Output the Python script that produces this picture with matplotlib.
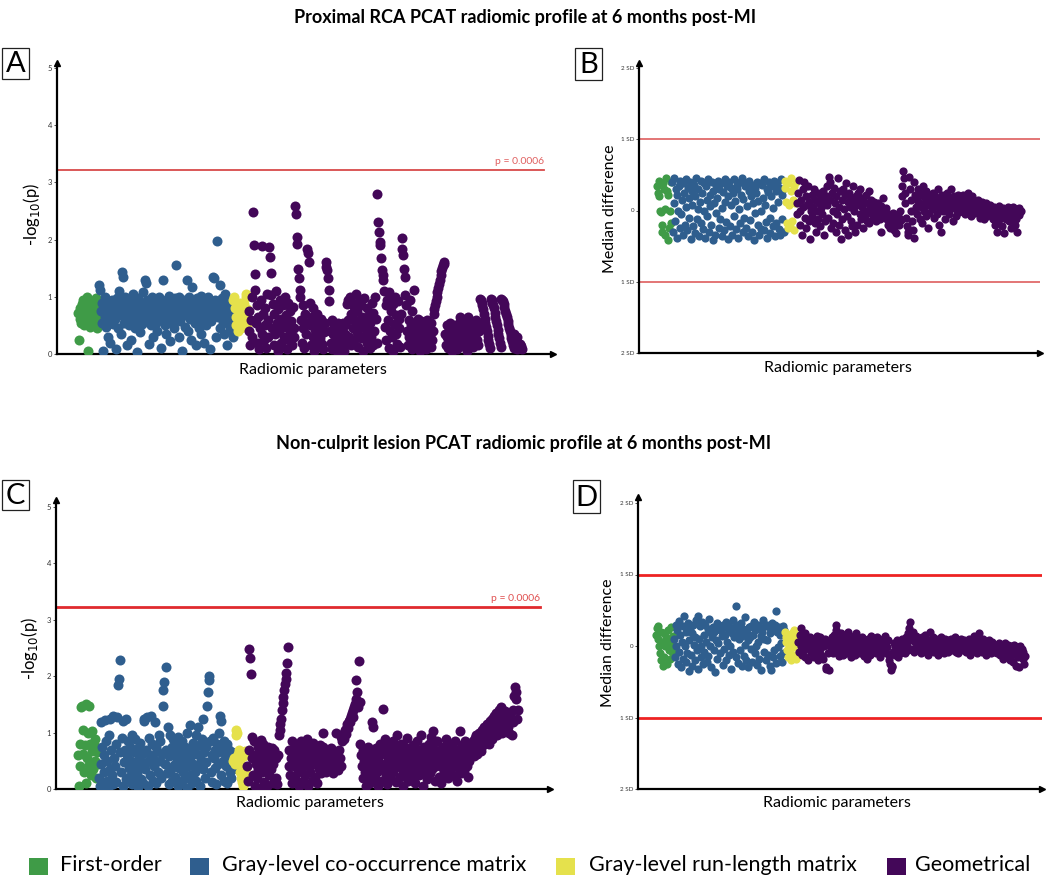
import numpy as np
import matplotlib
matplotlib.use("Agg")
import matplotlib.pyplot as plt
from matplotlib.patches import Rectangle

plt.rcParams['font.family'] = ['Lato', 'DejaVu Sans']

# ---------------- DATA ----------------
# Panel A: -log10(p), hundredths
A_first = [72, 25, 62, 80, 55, 88, 68, 95, 50, 75, 60, 85, 100, 5, 65, 90, 48, 78, 58, 70,
           92, 52, 82, 66, 98, 45, 74, 60]
A_glcm = [120, 112, 75, 90, 55, 5, 85, 65, 100, 48, 78, 30, 92, 60, 20, 82, 70, 95, 52, 88,
          62, 75, 8, 98, 45, 80, 110, 68, 35, 90, 143, 135, 72, 55, 100, 85, 15, 65, 95, 50,
          78, 88, 25, 60, 105, 70, 92, 45, 82, 3, 58, 98, 75, 38, 90, 65, 52, 85, 108, 72,
          130, 125, 60, 95, 80, 18, 70, 88, 50, 100, 65, 30, 85, 75, 55, 92, 40, 68, 100, 80,
          62, 10, 90, 130, 72, 85, 50, 95, 35, 78, 60, 102, 88, 22, 70, 55, 92, 82, 45, 98,
          75, 155, 65, 85, 30, 100, 58, 90, 72, 5, 80, 95, 48, 68, 88, 130, 40, 78, 100, 62,
          25, 85, 118, 70, 92, 55, 80, 15, 98, 65, 88, 45, 75, 102, 35, 60, 85, 20, 95, 72,
          50, 88, 62, 100, 78, 8, 92, 58, 80, 135, 132, 70, 95, 30, 85, 197, 65, 90, 45, 120,
          75, 98, 55, 88, 35, 105, 68, 90, 15, 80, 60, 95, 45, 72, 40, 30]
A_glrlm = [95, 100, 80, 65, 50, 85, 40, 70, 58, 90, 45, 75, 62, 52, 88, 68, 100, 105, 78, 55]
A_geom = [40, 75, 15, 60, 100, 30, 248, 190, 140, 112, 55, 85, 20, 65, 8, 45, 95, 35, 188, 70,
          25, 80, 50, 10, 105, 60, 30, 187, 170, 141, 103, 45, 88, 15, 70, 35, 110, 55, 5, 78,
          40, 95, 20, 62, 12, 85, 48, 30, 100, 68, 8, 52, 90, 25, 75, 38, 58, 15, 82, 45,
          30, 259, 245, 205, 192, 148, 132, 112, 100, 60, 20, 85, 45, 10, 70, 35, 55, 183, 176, 161,
          90, 50, 15, 65, 30, 80, 5, 42, 58, 22, 70, 35, 12, 50, 28, 62, 18, 45, 8, 38,
          55, 161, 152, 147, 132, 112, 92, 40, 20, 60, 8, 35, 50, 15, 45, 28, 5, 55, 32, 18,
          48, 10, 40, 25, 55, 5, 35, 50, 20, 88, 95, 60, 30, 100, 70, 15, 90, 45, 82, 25,
          60, 105, 38, 75, 12, 92, 50, 28, 85, 65, 5, 45, 98, 32, 58, 20, 80, 42, 68, 10,
          55, 30, 90, 15, 72, 40, 100, 62, 20, 279, 231, 213, 196, 190, 167, 147, 138, 129, 110, 48,
          85, 25, 95, 60, 10, 108, 40, 75, 30, 88, 5, 52, 100, 35, 68, 18, 92, 45, 62, 12,
          70, 202, 183, 173, 148, 134, 103, 85, 40, 15, 60, 30, 95, 50, 8, 75, 35, 112, 55, 20,
          45, 10, 62, 30, 50, 5, 40, 58, 22, 35, 15, 52, 28, 8, 60, 42, 18, 48, 32, 12,
          55, 25, 40, 70, 78, 85, 92, 100, 108, 115, 122, 130, 138, 145, 150, 155, 160, 158, 35, 15,
          50, 30, 10, 45, 55, 20, 40, 5, 35, 50, 25, 15, 45, 30, 8, 52, 38, 20, 65, 60,
          55, 48, 40, 32, 25, 18, 10, 5, 65, 58, 50, 42, 35, 28, 20, 12, 45, 30, 60, 38,
          25, 15, 55, 40, 97, 95, 90, 85, 78, 70, 62, 55, 48, 40, 32, 25, 18, 10, 97, 94,
          90, 85, 80, 72, 65, 58, 50, 42, 35, 28, 20, 12, 97, 95, 92, 88, 82, 76, 70, 64,
          58, 52, 46, 40, 34, 28, 22, 16, 10, 35, 25, 15, 8, 30, 20, 12, 18, 10, 14, 8]

# Panel B: median difference, hundredths of SD
B_first = [35, 25, 42, 20, 0, -2, -20, -30, 38, 30, 2, -35, 45, 28, -42, 22, -25, 0, 40, -18]
B_glcm = [40, -30, 10, 45, -15, 30, -38, 22, 0, 35, -25, 42, -5, 15, -35, 38, 25, -20, 5, 44,
          -28, 32, -10, 18, 40, -40, 28, 8, -22, 36, -32, 20, 45, -12, 2, 30, -36, 12, 42, -18,
          25, -26, 38, 0, -38, 34, 15, -8, 44, -30, 22, 6, -20, 40, -42, 28, 10, -34, 36, -4,
          18, 42, -24, 30, -12, 38, -36, 4, 26, -28, 44, 12, -16, 34, -40, 20, 40, -22, 8, 32,
          -34, 24, 44, -8, 14, -26, 36, 30, -38, 2, 40, -18, 22, 46, -30, 16, -10, 34, -24, 38,
          6, -36, 28, 42, -14, 20, -30, 36, 10, -42, 32, -4, 24, 40, -20, 14, -34, 38, 0, -26,
          36, 18, -28, 44, 8, -16, 30, -38, 26, 40, -10, -32, 20, 34, -22, 4, 42, -36, 28, -18,
          38, 12, -26, 32, -34, 44, 22, -12, 30, -30]
B_glrlm = [42, 32, 12, -18, -25, 38, 8, -22, 45, 28, -15, 15, 35, -28, 10, 40]
B_geom = [10, -5, 25, 43, 0, -20, 15, -35, 5, 30, 40, -10, 20, -25, 8, 35, -15, 12, -40, 0,
          22, -8, 5, 30, -18, 15, -30, 0, 25, -12, 10, -22, 18, 3, -5, 28, -35, 12, -15, 20,
          8, 35, -10, 47, 40, 15, -25, 25, 0, -18, 32, 10, -30, 20, -5, 45, 5, -20, 28, -40,
          15, -12, 30, 2, -28, 22, 38, -8, 12, -35, 25, 5, -15, 18, -22, 35, 0, 10, -30, 20,
          8, -20, 25, 15, -5, 30, -12, 5, 18, -25, 12, -8, 22, 0, -15, 10, 28, -18, 3, 15,
          -5, 8, -10, 12, -2, 5, -15, 0, 10, -8, 3, -12, -30, 6, -4, 18, -6, 2, -10, 4,
          -8, -12, -20, -5, -15, -25, -10, -18, -3, -22, -28, -8, -15, -32, -12, -5, -20, -10, 0, -14,
          20, 35, 55, 45, 25, 10, -10, -22, -30, -35, 47, 30, 15, 0, -15, -28, -38, 40, 22, 5,
          -5, 15, 30, 10, -12, 25, 5, -18, 20, 35, 0, 12, -8, 28, 8, -25, 18, -3, 22, 10,
          2, 15, 25, -10, 8, 20, 12, -5, 30, 5, -20, 15, 10, -30, 22, 0, 8, 18, -12, 5,
          12, 25, 8, -5, 18, 2, 30, 10, -15, 5, 20, 15, -8, 12, 0, 22, 6, -2, 14, 8,
          15, 5, 22, 10, -5, 18, 8, 0, 25, 12, 3, 15, -8, 10, 20, 2, 8, 12, -3, 6,
          10, 0, 15, 5, -10, 8, 2, 12, -5, 4, -12, 6, 0, 10, -8, 2, 5, -3, 8, 0,
          -5, 3, -12, 5, -20, 0, -8, -30, 2, -15, 6, -5, -10, 0, -22, 4, -8, -32, 2, -12,
          0, -5, 5, -15, -8, 3, -25, 0, -10, 5, -5, -20, 2, -12, -30, 0, -6, 4, -2, 0]

# Panel C: -log10(p), hundredths
C_first = [60, 5, 80, 40, 145, 148, 105, 62, 30, 78, 150, 10, 55, 100, 42, 147, 80, 25, 68, 102,
           35, 78, 50, 88, 20, 65, 45, 72]
C_glcm = [20, 5, 45, 118, 75, 10, 60, 30, 122, 85, 15, 50, 2, 95, 35, 125, 70, 25, 8, 130,
          55, 40, 12, 80, 128, 185, 195, 65, 228, 30, 90, 5, 120, 48, 70, 18, 125, 60, 85, 38,
          22, 75, 50, 8, 95, 35, 65, 15, 88, 45, 28, 72, 3, 55, 82, 40, 18, 62, 10, 125,
          120, 35, 70, 128, 48, 5, 90, 25, 60, 130, 80, 15, 55, 40, 118, 75, 10, 68, 30, 95,
          50, 85, 20, 62, 148, 176, 190, 45, 217, 70, 28, 110, 8, 58, 95, 35, 75, 15, 88, 42,
          65, 22, 80, 52, 5, 92, 38, 70, 12, 60, 85, 30, 48, 18, 75, 55, 2, 100, 40, 68,
          25, 113, 58, 10, 82, 45, 72, 30, 95, 15, 62, 110, 40, 78, 5, 52, 88, 35, 125, 65,
          20, 75, 48, 147, 172, 193, 200, 85, 30, 60, 12, 90, 55, 38, 70, 8, 80, 45, 65, 100,
          130, 120, 25, 75, 50, 85, 15, 62, 40, 80, 10, 55, 70, 30, 48, 20, 65, 35]
C_glrlm = [50, 55, 45, 95, 105, 100, 62, 70, 48, 30, 20, 12, 5, 40, 58, 68, 38, 25]
C_geom = [40, 15, 70, 248, 233, 204, 55, 92, 25, 85, 5, 60, 45, 20, 75, 35, 2, 65, 50, 87,
          30, 80, 55, 12, 70, 40, 60, 5, 75, 25, 50, 65, 35, 72, 10, 45, 70, 62, 20, 55,
          8, 60, 96, 105, 115, 125, 140, 152, 164, 175, 186, 195, 205, 224, 252, 40, 70, 25, 55, 85,
          10, 65, 40, 80, 20, 50, 72, 30, 60, 5, 45, 85, 35, 68, 15, 55, 78, 25, 48, 88,
          62, 5, 40, 75, 30, 58, 15, 82, 45, 65, 22, 70, 50, 10, 60, 35, 78, 48, 28, 68,
          99, 75, 60, 45, 30, 70, 55, 40, 65, 50, 35, 72, 58, 42, 28, 68, 52, 38, 99, 62,
          48, 33, 70, 55, 40, 92, 85, 95, 100, 88, 105, 98, 110, 115, 108, 120, 125, 118, 130, 135,
          128, 140, 145, 150, 194, 160, 172, 146, 227, 155, 80, 60, 40, 20, 70, 50, 30, 5, 65, 45,
          75, 25, 55, 10, 68, 38, 119, 110, 60, 20, 45, 72, 30, 58, 5, 48, 80, 35, 62, 15,
          141, 70, 42, 88, 25, 60, 8, 52, 78, 35, 65, 18, 45, 85, 30, 58, 72, 12, 50, 95,
          40, 68, 22, 55, 80, 35, 5, 62, 48, 75, 28, 58, 90, 15, 45, 70, 38, 60, 20, 52,
          78, 32, 65, 10, 50, 85, 42, 70, 25, 58, 95, 38, 62, 5, 48, 75, 30, 55, 18, 68,
          45, 80, 28, 60, 92, 35, 102, 72, 50, 15, 65, 40, 85, 55, 22, 70, 48, 10, 62, 38,
          75, 30, 58, 88, 42, 68, 20, 52, 80, 35, 62, 48, 72, 25, 55, 85, 40, 65, 15, 50,
          70, 38, 102, 60, 28, 78, 45, 62, 32, 85, 55, 40, 68, 22, 50, 75, 60, 80, 65, 72,
          85, 58, 90, 70, 95, 62, 82, 100, 75, 92, 68, 105, 88, 78, 110, 95, 85, 100, 115, 90,
          105, 80, 120, 98, 125, 88, 110, 130, 100, 118, 135, 95, 122, 108, 140, 128, 112, 145, 100, 132,
          115, 125, 138, 105, 120, 130, 110, 100, 128, 135, 120, 95, 140, 118, 165, 180, 172, 160, 125, 140]

# Panel D: median difference, hundredths of SD
D_first = [15, 25, 28, 10, 0, -10, -20, 20, 5, -28, 18, -15, 0, 12, -25, 8, 22, -5, -18, 2,
           26, -8, 14, -2]
D_glcm = [10, -15, 30, 0, 22, -25, 35, -8, 15, -30, 5, 28, -18, 42, 0, -22, 20, -10, 32, -35,
          8, 25, -12, 18, -28, 30, 2, -20, 12, 36, -5, 42, -32, 10, 28, -15, 0, 34, -25, 16,
          -8, 30, 6, -22, 24, -14, 38, 0, 18, -30, 12, 26, -6, 20, -36, 8, 32, -18, 4, 28,
          -10, 22, 24, 14, -26, 30, -4, 16, 34, -20, 6, 24, -12, 28, 0, -32, 18, 36, -8, 12,
          26, -16, 56, 30, -24, 20, 10, -6, 32, -28, 14, 24, -14, 2, 40, -20, 18, 8, -30, 26,
          12, -4, 28, -22, 16, 34, -10, 22, 0, -26, 30, 6, -18, 24, 14, -34, 20, 36, -8, 10,
          28, -20, 30, 8, -12, 26, -28, 18, -34, 32, -16, 22, -6, 30, -24, 49, 20, -2, 26, -14,
          16, 4, -22, 28, -10, 22]
D_glrlm = [20, 12, 5, -5, -15, 15, 0, -10, -20, 18, 8, -2, 22, -12, 10, -18, 3, 14]
D_geom = [5, -8, 15, 0, 25, -12, 8, -5, 18, -15, 3, 10, -20, 6, -3, 12, -10, 0, 8, -6,
          10, -15, 4, -8, 14, 0, -20, 6, -4, 12, -12, 2, 8, -18, 0, 10, -30, -32, 5, -10,
          -33, 0, 8, -5, 12, -10, 3, 15, -2, 30, 22, 6, -8, 10, -14, 2, 18, -6, 4, -12,
          0, 8, -4, 12, -10, 20, 2, -8, 6, -15, 10, 0, -5, 14, -12, 4, 18, -2, 8, -8,
          3, -10, 10, -4, 12, 0, -14, 6, -6, 8, -18, 2, 10, -8, 4, -12, 14, 0, -5, 6,
          -2, 8, -10, 4, 12, -6, 0, -15, 6, 2, -8, 10, -4, 0, 14, -10, 5, -2, 8, -12,
          -20, -25, -33, -30, -28, -8, 4, -12, 0, -6, 8, -15, -3, 6, -10, 2, -5, 10, -8, 0,
          5, -10, 12, 0, 18, -5, 25, 34, 15, 8, -4, 20, 10, -8, 6, 14, -2, 4, 10, -6,
          8, 2, -10, 12, -4, 6, 0, 15, -8, 10, 4, -12, 8, 0, 20, 6, -5, 12, 2, -8,
          6, -4, 10, 0, -12, 8, 4, -6, 12, -2, 6, 0, -10, 4, 10, -5, 2, 8, -8, 0,
          4, 10, -6, 2, 8, -4, 0, 12, -8, 6, 2, -10, 8, 0, -4, 10, 4, -6, 2, 8,
          0, -8, 6, 2, -4, 10, 0, -12, 4, 8, -6, 2, 14, -2, 6, 0, -10, 4, 18, 8,
          -2, 6, -8, 2, 10, -4, 0, -12, 6, 2, -6, 8, -2, 4, -10, 0, 6, -4, 2, -8,
          -4, 2, -10, 0, -6, 4, -12, -2, 2, -8, -18, 0, -4, 4, -10, -2, -14, 2, -6, -20,
          -6, 0, -12, -22, -4, 2, -10, -28, -2, -8, -16, -30, 0, -6, -12, -4, -18, -8, -25, -14]

categories = ['First-order', 'Gray-level co-occurrence matrix',
              'Gray-level run-length matrix', 'Geometrical']
colors = ['#3f9b47', '#2f5e8e', '#e5e14c', '#430758']
p_threshold = 0.0006
sd_ticks = [-2, -1, 0, 1, 2]
sd_labels = ['2 SD', '1 SD', '0', '1 SD', '2 SD']
titles = ['Proximal RCA PCAT radiomic profile at 6 months post-MI',
          'Non-culprit lesion PCAT radiomic profile at 6 months post-MI']

# ---------------- FIGURE ----------------
W, H = 1050, 883
fig = plt.figure(figsize=(W / 100, H / 100), dpi=100)
fig.patch.set_facecolor('white')


def px_axes(l, r, b, t):
    return fig.add_axes([l / W, 1 - b / H, (r - l) / W, (b - t) / H])


def scatter_groups(ax, groups, p0, p1, L, R, size):
    n = sum(len(g) for g in groups)
    start = 0
    for vals, c in zip(groups, colors):
        xs = np.arange(start, start + len(vals))
        ax.scatter(xs, np.asarray(vals) / 100.0, s=size, color=c, linewidths=0, zorder=3)
        start += len(vals)
    s = (p1 - p0) / (n - 1)
    ax.set_xlim(-(p0 - L) / s, (n - 1) + (R - p1) / s)


def style(ax):
    for sp in ['top', 'right']:
        ax.spines[sp].set_visible(False)
    for sp in ['left', 'bottom']:
        ax.spines[sp].set_linewidth(1.6)
        ax.spines[sp].set_color('black')
    ax.plot(1, 0, marker='>', color='black', ms=4, transform=ax.transAxes, clip_on=False)
    ax.plot(0, 1, marker='^', color='black', ms=4, transform=ax.transAxes, clip_on=False)
    ax.set_xticks([])
    ax.tick_params(axis='y', length=2, width=0.6, labelsize=5.5, pad=1.5,
                   colors='#333333')
    ax.set_facecolor('none')


thr = -np.log10(p_threshold)

# Panel A
L, R, B, T = 57, 553, 354, 63
axA = px_axes(L, R, B, T)
scatter_groups(axA, [A_first, A_glcm, A_glrlm, A_geom], 78, 522, L, R, 52)
axA.set_ylim(0, (B - T) / 57.2)
axA.set_yticks([0, 1, 2, 3, 4, 5])
axA.axhline(thr, xmin=0, xmax=(544 - L) / (R - L), color='#d84a4a', lw=1.3, zorder=2)
axA.text((544 - L) / (R - L), thr + 0.06, 'p = 0.0006', transform=axA.get_yaxis_transform(),
         ha='right', va='bottom', fontsize=7.5, color='#e06060')
style(axA)

# Panel B
L, R, B, T = 639, 1040, 353, 63
axB = px_axes(L, R, B, T)
scatter_groups(axB, [B_first, B_glcm, B_glrlm, B_geom], 657, 1021, L, R, 35)
sdB = (353 - 68) / 4.0
axB.set_ylim(-2, -2 + (B - T) / sdB)
axB.set_yticks(sd_ticks)
axB.set_yticklabels(sd_labels)
for v in (1, -1):
    axB.axhline(v, color='#e06a6a', lw=1.3, zorder=2)
style(axB)
axB.tick_params(axis='y', labelsize=4.5)

# Panel C
L, R, B, T = 56, 550, 789, 500
axC = px_axes(L, R, B, T)
scatter_groups(axC, [C_first, C_glcm, C_glrlm, C_geom], 78, 518, L, R, 52)
axC.set_ylim(0, (B - T) / 56.4)
axC.set_yticks([0, 1, 2, 3, 4, 5])
axC.axhline(thr, xmin=0, xmax=(540 - L) / (R - L), color='#e02a2e', lw=2.0, zorder=2)
axC.text((540 - L) / (R - L), thr + 0.08, 'p = 0.0006', transform=axC.get_yaxis_transform(),
         ha='right', va='bottom', fontsize=7.5, color='#e05050')
style(axC)

# Panel D
L, R, B, T = 638, 1042, 789, 497
axD = px_axes(L, R, B, T)
scatter_groups(axD, [D_first, D_glcm, D_glrlm, D_geom], 656, 1025, L, R, 35)
sdD = (789 - 503) / 4.0
axD.set_ylim(-2, -2 + (B - T) / sdD)
axD.set_yticks(sd_ticks)
axD.set_yticklabels(sd_labels)
for v in (1, -1):
    axD.axhline(v, color='#ee2222', lw=2.0, zorder=2)
style(axD)
axD.tick_params(axis='y', labelsize=4.5)


def ftext(x, y, s, **kw):
    fig.text(x / W, 1 - y / H, s, **kw)


# titles
ftext(525, 17, titles[0], ha='center', va='center', fontsize=13, fontweight='bold')
ftext(524, 443, titles[1], ha='center', va='center', fontsize=13, fontweight='bold')

# axis labels
for (x, y) in [(313, 370), (838, 368), (310, 803), (837, 803)]:
    ftext(x, y, 'Radiomic parameters', ha='center', va='center', fontsize=11.5)
ftext(32, 214, '-log$_{10}$(p)', ha='center', va='center', rotation=90, fontsize=12)
ftext(30, 648, '-log$_{10}$(p)', ha='center', va='center', rotation=90, fontsize=12)
ftext(610, 209, 'Median difference', ha='center', va='center', rotation=90, fontsize=11.5)
ftext(608, 643, 'Median difference', ha='center', va='center', rotation=90, fontsize=11.5)

# panel letters in boxes
for letter, (x0, y0, x1, y1) in zip('ABCD', [(2, 48, 29, 79), (575, 48, 602, 80),
                                             (2, 480, 29, 510), (573, 480, 600, 513)]):
    fig.patches.append(Rectangle((x0 / W, 1 - y1 / H), (x1 - x0) / W, (y1 - y0) / H,
                                 transform=fig.transFigure, fill=True, facecolor='white',
                                 edgecolor='#222222', lw=0.9))
    ftext((x0 + x1) / 2, (y0 + y1) / 2 + 1, letter, ha='center', va='center', fontsize=21)

# legend
leg = [(29, 60), (190, 222), (556, 589), (887, 915)]
for (sx, tx), c, lab in zip(leg, colors, categories):
    fig.patches.append(Rectangle((sx / W, 1 - 875 / H), 19 / W, 17 / H,
                                 transform=fig.transFigure, facecolor=c, edgecolor='none'))
    ftext(tx, 865, lab, ha='left', va='center', fontsize=15.5)

fig.savefig('out.png', dpi=100, facecolor='white')
